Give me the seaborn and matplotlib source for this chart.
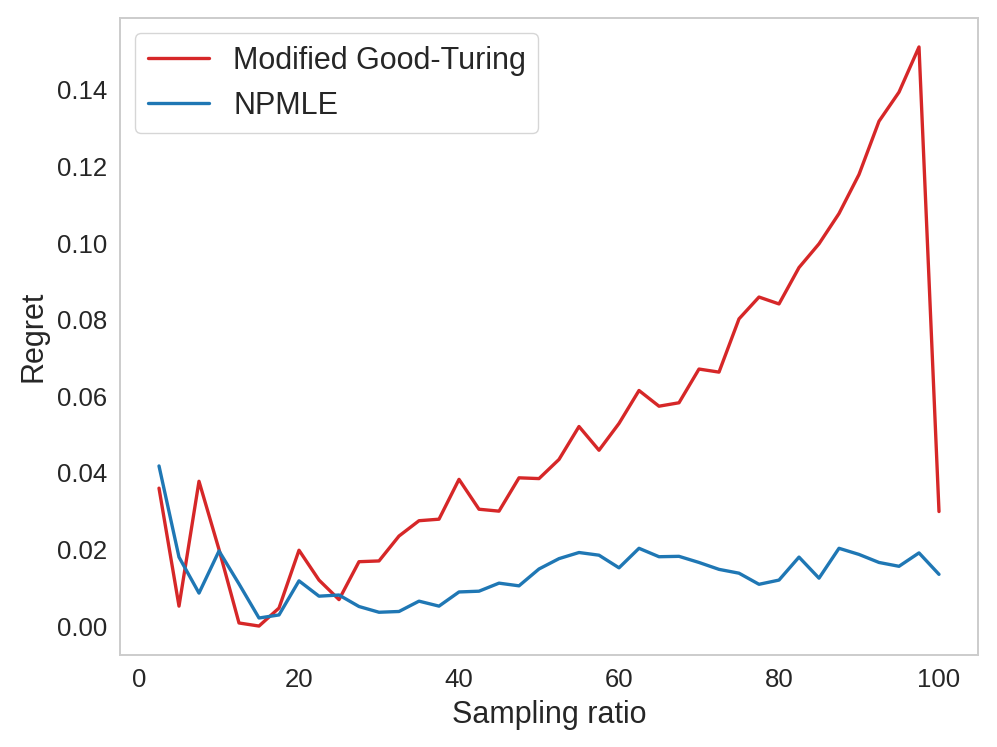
import numpy as np
import pandas as pd
import seaborn as sns
import matplotlib
matplotlib.use("Agg")
import matplotlib.pyplot as plt

# Data
sampling_ratio = [2.5, 5, 7.5, 10, 12.5, 15, 17.5, 20, 22.5, 25,
                  27.5, 30, 32.5, 35, 37.5, 40, 42.5, 45, 47.5, 50,
                  52.5, 55, 57.5, 60, 62.5, 65, 67.5, 70, 72.5, 75,
                  77.5, 80, 82.5, 85, 87.5, 90, 92.5, 95, 97.5, 100]

good_turing = [0.0360, 0.0052, 0.0378, 0.0200, 0.0008, 0.0000, 0.0047, 0.0198, 0.0120, 0.0069,
               0.0168, 0.0170, 0.0235, 0.0275, 0.0279, 0.0383, 0.0305, 0.0300, 0.0387, 0.0385,
               0.0435, 0.0521, 0.0459, 0.0529, 0.0615, 0.0574, 0.0583, 0.0671, 0.0663, 0.0802,
               0.0859, 0.0841, 0.0936, 0.0998, 0.1077, 0.1179, 0.1318, 0.1394, 0.1512, 0.0299]

npmle = [0.0418, 0.0180, 0.0086, 0.0196, 0.0110, 0.0021, 0.0029, 0.0118, 0.0078, 0.0081,
         0.0051, 0.0036, 0.0038, 0.0065, 0.0052, 0.0089, 0.0091, 0.0112, 0.0105, 0.0149,
         0.0176, 0.0192, 0.0185, 0.0152, 0.0203, 0.0181, 0.0182, 0.0166, 0.0148, 0.0138,
         0.0109, 0.0120, 0.0180, 0.0125, 0.0203, 0.0187, 0.0166, 0.0156, 0.0191, 0.0135]

series_names = ["Modified Good-Turing", "NPMLE"]
series_colors = ["#d62728", "#1f77b4"]

df = pd.DataFrame({
    "Sampling ratio": sampling_ratio * 2,
    "Regret": good_turing + npmle,
    "Method": [series_names[0]] * len(good_turing) + [series_names[1]] * len(npmle),
})

sns.set_theme(style="whitegrid")
plt.rcParams["font.family"] = ["Liberation Sans", "DejaVu Sans"]
plt.rcParams["xtick.major.pad"] = 3.4
plt.rcParams["ytick.major.pad"] = 3.4

fig = plt.figure(figsize=(9.97, 7.47), dpi=100)
ax = fig.add_axes([120 / 997, 1 - 655 / 747, (978 - 120) / 997, (655 - 18) / 747])

sns.lineplot(data=df, x="Sampling ratio", y="Regret", hue="Method",
             palette=dict(zip(series_names, series_colors)),
             linewidth=2.4, ax=ax)

ax.grid(False)
for s in ax.spines.values():
    s.set_color("0.8")
    s.set_linewidth(1.4)

ax.tick_params(labelsize=18.5)
ax.set_xlabel("Sampling ratio", fontsize=22, labelpad=6)
ax.set_ylabel("Regret", fontsize=22, labelpad=6)

leg = ax.legend(loc="upper left", fontsize=22, title=None)
leg.get_frame().set_edgecolor("0.8")

fig.savefig("out.png", dpi=100)
